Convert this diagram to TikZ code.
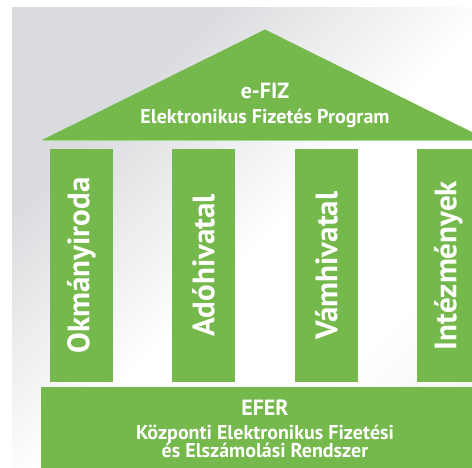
\documentclass[tikz,border=0pt]{standalone}
\usepackage{fontspec}
\setmainfont{PT Sans}
\definecolor{leaf}{HTML}{75B84C}
\definecolor{leaflight}{HTML}{A9D68D}
\definecolor{mist}{HTML}{DADBDE}
\pgfdeclarehorizontalshading{backdrop}{100bp}{color(0bp)=(mist); color(30bp)=(mist); color(52bp)=(white); color(68bp)=(white); color(100bp)=(mist!70!white)}
\begin{document}
\begin{tikzpicture}[x=1pt,y=-1pt,
  pillar/.style={fill=leaf, text=white, rotate=90, minimum width=233pt, minimum height=63pt,
    inner sep=0pt, font=\bfseries\fontsize{31}{31}\selectfont},
  title/.style={text=white, inner sep=0pt, anchor=base, font=\bfseries\fontsize{22}{22}\selectfont},
  subtitle/.style={text=white, inner sep=0pt, anchor=base, font=\bfseries\fontsize{20}{20}\selectfont}]
\useasboundingbox (0,0) rectangle (472,468);
% backdrop
\shade[shading=backdrop, shading angle=-45] (12,8) rectangle (472,468);
% roof
\fill[leaf] (42,140) -- (265,29.5) -- (488,140) -- cycle;
\draw[leaflight, line width=1.2pt] (42.5,140.6) -- (488,140.6);
\node[title] (efiz) at (265,99) {e-FIZ};
\node[subtitle] (efizsub) at (265,123.3) {Elektronikus Fizetés Program};
% pillars
\node[pillar] (p1) at (81.5,265.5) {Okmányiroda};
\node[pillar] (p2) at (203.5,265.5) {Adóhivatal};
\node[pillar] (p3) at (326.5,265.5) {Vámhivatal};
\node[pillar] (p4) at (448.5,265.5) {Intézmények};
% foundation
\fill[leaf] (41,387) rectangle (480,470);
\node[title] (efer) at (265,415) {EFER};
\node[subtitle] (efer1) at (265,439) {Központi Elektronikus Fizetési};
\node[subtitle] (efer2) at (265,457.3) {és Elszámolási Rendszer};
\end{tikzpicture}
\end{document}
